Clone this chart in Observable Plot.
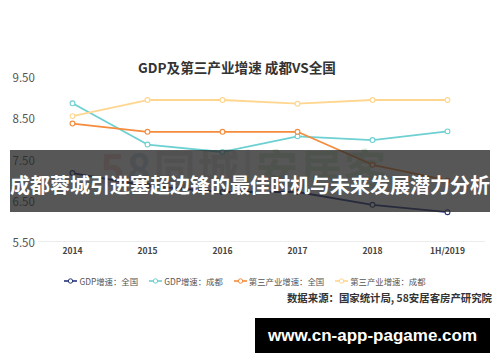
<!DOCTYPE html>
<html><head><meta charset="utf-8">
<script src="https://cdn.jsdelivr.net/npm/d3@7"></script>
<script src="https://cdn.jsdelivr.net/npm/@observablehq/plot@0.6"></script>
<style>
body{margin:0;background:#fff;}
#wrap{position:relative;width:500px;height:362px;overflow:hidden;background:#fff;font-family:"Noto Sans CJK SC","Noto Sans",sans-serif;}
#wrap svg{position:absolute;left:0;top:0;}
.abs{position:absolute;white-space:nowrap;}
#title{left:0;width:474px;top:57px;text-align:center;font-size:13.6px;font-weight:700;color:#333;}
#legend{left:0;width:490px;top:275px;display:flex;justify-content:center;gap:11px;font-size:8.4px;color:#555;}
.item{display:flex;align-items:center;gap:2px;}
#source{right:8px;top:290px;font-size:10.4px;font-weight:700;color:#333;}
#banner{left:10px;top:150px;width:480px;height:62px;background:rgba(40,40,40,0.78);color:#fff;font-size:20px;font-weight:700;text-align:center;line-height:62px;padding-top:4px;box-sizing:border-box;letter-spacing:0;}
#site{left:255px;top:318px;width:235px;height:35px;background:#000;color:#fff;font-family:"Liberation Sans",Arial,sans-serif;font-weight:700;font-size:17px;text-align:center;line-height:35px;}
#wm{left:100px;top:136px;font-size:42px;font-weight:700;opacity:0.2;letter-spacing:2px;}
</style></head><body><div id="wrap"></div>
<script>
const categories = ["2014","2015","2016","2017","2018","1H/2019"];
const gdpNational = [7.16, 6.85, 6.70, 6.70, 6.39, 6.21];
const gdpChengdu = [8.85, 7.85, 7.67, 8.05, 7.96, 8.17];
const tertiaryNational = [8.36, 8.16, 8.16, 8.16, 7.36, 6.98];
const tertiaryChengdu = [8.54, 8.93, 8.93, 8.84, 8.93, 8.93];
const seriesNames = ["GDP增速：全国","GDP增速：成都","第三产业增速：全国","第三产业增速：成都"];
const seriesColors = ["#25337a","#6ed0d2","#f58b3c","#ffd68f"];
const yTicks = [5.5, 6.5, 7.5, 8.5, 9.5];
const chartTitle = "GDP及第三产业增速 成都VS全国";
const sourceNote = "数据来源：国家统计局, 58安居客房产研究院";
const bannerText = "成都蓉城引进塞超边锋的最佳时机与未来发展潜力分析";
const siteText = "www.cn-app-pagame.com";
const watermarkParts = [["5","#e0302a"],["8","#2a5fa8"],["同城","#777"],["|","#999"],["安居客","#3a9a3a"]];

const seriesValues = [gdpNational, gdpChengdu, tertiaryNational, tertiaryChengdu];
const rows = seriesValues.flatMap((vals, s) => vals.map((v, i) => ({series: seriesNames[s], cat: categories[i], value: v})));

const wrap = document.getElementById("wrap");

const wm = document.createElement("div");
wm.className = "abs"; wm.id = "wm";
watermarkParts.forEach(([t, c]) => { const s = document.createElement("span"); s.textContent = t; s.style.color = c; wm.appendChild(s); });
wrap.appendChild(wm);

const chart = Plot.plot({
  width: 500, height: 362,
  marginTop: 76, marginBottom: 121, marginLeft: 38, marginRight: 15,
  style: {background: "transparent", fontFamily: "'Noto Sans CJK SC','Noto Sans',sans-serif"},
  x: {type: "point", domain: categories, range: [71, 448], padding: 0, axis: null},
  y: {domain: [5.5, 9.5], axis: null},
  color: {domain: seriesNames, range: seriesColors},
  marks: [
    Plot.ruleY([5.5], {stroke: "#ececec", strokeWidth: 1}),
    Plot.text(yTicks, {y: d => d, text: d => d.toFixed(2), frameAnchor: "left", textAnchor: "start", dx: -26, dy: 2, fontSize: 11.5, fill: "#555"}),
    Plot.text(categories, {x: d => d, text: d => d, frameAnchor: "bottom", dy: 12, fontSize: 8.5, fontWeight: 700, fill: "#444"}),
    Plot.line(rows, {x: "cat", y: "value", z: "series", stroke: "series", strokeWidth: 1.8}),
    Plot.dot(rows, {x: "cat", y: "value", stroke: "series", fill: "white", r: 2.4, strokeWidth: 1.1})
  ]
});
wrap.appendChild(chart);

const title = document.createElement("div");
title.className = "abs"; title.id = "title"; title.textContent = chartTitle;
wrap.appendChild(title);

const legend = document.createElement("div");
legend.className = "abs"; legend.id = "legend";
seriesNames.forEach((name, i) => {
  const item = document.createElement("div"); item.className = "item";
  item.innerHTML = `<svg width="13" height="8" style="position:static"><line x1="0" x2="13" y1="4" y2="4" stroke="${seriesColors[i]}" stroke-width="1.6"/><circle cx="6.5" cy="4" r="2.2" fill="white" stroke="${seriesColors[i]}" stroke-width="1"/></svg>`;
  const t = document.createElement("span"); t.textContent = name; item.appendChild(t);
  legend.appendChild(item);
});
wrap.appendChild(legend);

const src = document.createElement("div");
src.className = "abs"; src.id = "source"; src.textContent = sourceNote;
wrap.appendChild(src);

const banner = document.createElement("div");
banner.className = "abs"; banner.id = "banner"; banner.textContent = bannerText;
wrap.appendChild(banner);

const site = document.createElement("div");
site.className = "abs"; site.id = "site"; site.textContent = siteText;
wrap.appendChild(site);
</script>
</body></html>
